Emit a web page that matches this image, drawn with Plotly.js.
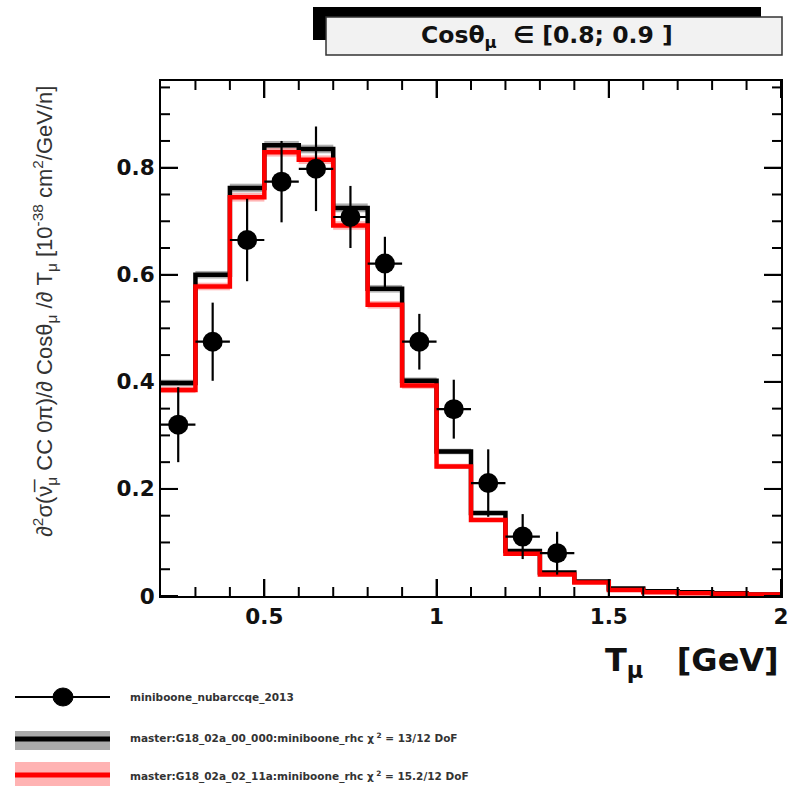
<!DOCTYPE html>
<html>
<head>
<meta charset="utf-8">
<script src="https://cdn.plot.ly/plotly-3.0.1.min.js"></script>
<style>html,body{margin:0;padding:0;background:#fff;}#chart{width:796px;height:786px;}</style>
</head>
<body>
<div id="chart"></div>
<script>
// ---- data ----
const binEdges = [0.2,0.3,0.4,0.5,0.6,0.7,0.8,0.9,1.0,1.1,1.2,1.3,1.4,1.5,1.6,1.7,1.8,1.9,2.0];
const g18_00 = [0.398,0.600,0.762,0.842,0.835,0.725,0.574,0.402,0.270,0.155,0.084,0.044,0.027,0.014,0.009,0.007,0.005,0.003];
const g18_00_err = [0.006,0.007,0.008,0.008,0.008,0.008,0.007,0.006,0.005,0.004,0.003,0.002,0.002,0.001,0.001,0.001,0.001,0.001];
const g18_11 = [0.385,0.578,0.745,0.829,0.815,0.692,0.544,0.393,0.242,0.142,0.079,0.040,0.025,0.011,0.007,0.005,0.004,0.003];
const g18_11_err = [0.006,0.007,0.008,0.008,0.008,0.008,0.007,0.006,0.005,0.004,0.003,0.002,0.002,0.001,0.001,0.001,0.001,0.001];
const dataX = [0.25,0.35,0.45,0.55,0.65,0.75,0.85,0.95,1.05,1.15,1.25,1.35];
const dataY = [0.320,0.475,0.665,0.774,0.798,0.708,0.621,0.475,0.349,0.211,0.111,0.080];
const dataErr = [0.070,0.073,0.077,0.076,0.079,0.058,0.050,0.052,0.055,0.063,0.042,0.040];
const dataXErr = [0.05,0.05,0.05,0.05,0.05,0.05,0.05,0.05,0.05,0.05,0.05,0.05];
const xTickVals = [0.5,1,1.5,2];
const xMinorVals = [0.3,0.4,0.6,0.7,0.8,0.9,1.1,1.2,1.3,1.4,1.6,1.7,1.8,1.9];
const yTickVals = [0,0.2,0.4,0.6,0.8];
const yMinorVals = [0.05,0.1,0.15,0.25,0.3,0.35,0.45,0.5,0.55,0.65,0.7,0.75,0.85,0.9,0.95];
const legendLabels = ['miniboone_nubarccqe_2013',
  'master:G18_02a_00_000:miniboone_rhc χ<sup> 2</sup> = 13/12 DoF',
  'master:G18_02a_02_11a:miniboone_rhc χ<sup> 2</sup> = 15.2/12 DoF'];
const panelTitle = 'Cosθ<sub>μ</sub>  ∈ [0.8; 0.9 ]';

// ---- helpers ----
function stepY(v){ return v.concat([v[v.length-1]]); }
function addArr(a,b,s){ return a.map((x,i)=>x+s*b[i]); }

const L=161, R=781, T=81, B=596;
const W=796, H=786;
const pw=R-L, ph=B-T;
const px=(x)=>(x-L)/pw;
const py=(y)=>(B-y)/ph;
const XR=[0.2,2.0], YR=[0,0.962];
const xp=(v)=>(v-XR[0])/(XR[1]-XR[0]);
const yp=(v)=>(v-YR[0])/(YR[1]-YR[0]);

const traces = [
  {x:binEdges, y:stepY(addArr(g18_00,g18_00_err,-1)), mode:'lines', line:{shape:'hv',width:0.1,color:'rgba(150,150,150,0.75)'}},
  {x:binEdges, y:stepY(addArr(g18_00,g18_00_err,1)), mode:'lines', line:{shape:'hv',width:0.1,color:'rgba(150,150,150,0.75)'}, fill:'tonexty', fillcolor:'rgba(150,150,150,0.75)'},
  {x:binEdges, y:stepY(addArr(g18_11,g18_11_err,-1)), mode:'lines', line:{shape:'hv',width:0.1,color:'rgba(255,150,150,0.7)'}},
  {x:binEdges, y:stepY(addArr(g18_11,g18_11_err,1)), mode:'lines', line:{shape:'hv',width:0.1,color:'rgba(255,150,150,0.7)'}, fill:'tonexty', fillcolor:'rgba(255,150,150,0.7)'},
  {x:binEdges, y:stepY(g18_00), mode:'lines', line:{shape:'hv',width:4.5,color:'#000'}},
  {x:binEdges, y:stepY(g18_11), mode:'lines', line:{shape:'hv',width:4.5,color:'#ff0000'}},
  {x:dataX, y:dataY, mode:'markers', marker:{size:20,color:'#000'},
    error_y:{type:'data',array:dataErr,visible:true,color:'#000',thickness:2.2,width:0},
    error_x:{type:'data',array:dataXErr,visible:true,color:'#000',thickness:2.2,width:0}}
];

const tickFont = {family:'DejaVu Sans, sans-serif', size:21.5, color:'#111', weight:'bold'};
const baseShapes = [
  {type:'rect', xref:'paper', yref:'paper', x0:px(313), x1:px(761), y0:py(40), y1:py(7), fillcolor:'#000', line:{width:0}},
  {type:'rect', xref:'paper', yref:'paper', x0:px(326), x1:px(782), y0:py(55), y1:py(17), fillcolor:'#f2f2f2', line:{color:'#333',width:1.5}},
  {type:'line', xref:'paper', yref:'paper', x0:px(15), x1:px(110), y0:py(697), y1:py(697), line:{color:'#000',width:2}},
  {type:'circle', xref:'paper', yref:'paper', x0:px(53), x1:px(73), y0:py(706), y1:py(688), fillcolor:'#000', line:{color:'#000',width:1}},
  {type:'rect', xref:'paper', yref:'paper', x0:px(15), x1:px(110), y0:py(750), y1:py(731), fillcolor:'#aaaaaa', line:{width:0}},
  {type:'line', xref:'paper', yref:'paper', x0:px(15), x1:px(110), y0:py(739), y1:py(739), line:{color:'#000',width:5}},
  {type:'rect', xref:'paper', yref:'paper', x0:px(15), x1:px(110), y0:py(790), y1:py(762), fillcolor:'#ffb3b3', line:{width:0}},
  {type:'line', xref:'paper', yref:'paper', x0:px(15), x1:px(110), y0:py(775), y1:py(775), line:{color:'#ff0000',width:5}}
];
// inside tick marks on all four sides, added after the first draw
const tickShapes = [];
function xTick(v,len){
  const f=xp(v), d=len/ph;
  tickShapes.push({type:'line', xref:'paper', yref:'paper', x0:f, x1:f, y0:0, y1:d, line:{color:'#000',width:2}});
  tickShapes.push({type:'line', xref:'paper', yref:'paper', x0:f, x1:f, y0:1, y1:1-d, line:{color:'#000',width:2}});
}
function yTick(v,len){
  const f=yp(v), d=len/pw;
  tickShapes.push({type:'line', xref:'paper', yref:'paper', y0:f, y1:f, x0:0, x1:d, line:{color:'#000',width:2}});
  tickShapes.push({type:'line', xref:'paper', yref:'paper', y0:f, y1:f, x0:1, x1:1-d, line:{color:'#000',width:2}});
}
xTickVals.forEach(v=>xTick(v,17));
xMinorVals.forEach(v=>xTick(v,9));
yTickVals.forEach(v=>yTick(v,17));
yMinorVals.forEach(v=>yTick(v,9));

const legFont = {family:'DejaVu Sans, sans-serif', size:10.5, color:'#333', weight:'bold'};
const annotations = [
  {xref:'paper', yref:'paper', x:px(547), y:py(36), text:panelTitle, showarrow:false, xanchor:'center', yanchor:'middle',
    font:{family:'DejaVu Sans, sans-serif', size:23.5, color:'#111', weight:'bold'}},
  {xref:'paper', yref:'paper', x:px(781), y:py(662), text:'T<sub>μ</sub>   [GeV]', showarrow:false, xanchor:'right', yanchor:'middle',
    font:{family:'DejaVu Sans, sans-serif', size:32, color:'#111', weight:'bold'}},
  {xref:'paper', yref:'paper', x:px(44), y:py(312), textangle:-90,
    text:'∂<sup>2</sup>σ(ν\u0305<sub>μ</sub> CC 0π)/∂ Cosθ<sub>μ</sub> /∂ T<sub>μ</sub> [10<sup>-38</sup> cm<sup>2</sup>/GeV/n]',
    showarrow:false, xanchor:'center', yanchor:'middle',
    font:{family:'Liberation Sans, Arial, sans-serif', size:22, color:'#333'}},
  {xref:'paper', yref:'paper', x:px(128), y:py(697), text:legendLabels[0], showarrow:false, xanchor:'left', yanchor:'middle', font:legFont},
  {xref:'paper', yref:'paper', x:px(128), y:py(738), text:legendLabels[1], showarrow:false, xanchor:'left', yanchor:'middle', font:legFont},
  {xref:'paper', yref:'paper', x:px(128), y:py(776), text:legendLabels[2], showarrow:false, xanchor:'left', yanchor:'middle', font:legFont}
];

const axisCommon = {showgrid:false, zeroline:false, showline:true, linecolor:'#000', linewidth:2, mirror:'allticks',
  ticks:'inside', ticklen:17, tickwidth:2, tickcolor:'#000', tickfont:tickFont};

const layout = {
  width:W, height:H,
  margin:{l:L, r:W-R, t:T, b:H-B},
  showlegend:false,
  xaxis:Object.assign({}, axisCommon, {range:XR, tickvals:xTickVals}),
  yaxis:Object.assign({}, axisCommon, {range:YR, tickvals:yTickVals}),
  shapes:baseShapes,
  annotations:annotations
};

Plotly.newPlot('chart', traces, layout, {displayModeBar:false}).then(gd=>{
  return Plotly.relayout(gd, {shapes: baseShapes.concat(tickShapes)});
}).then(gd=>{
  try{
    const p=document.querySelector('path.xtick');
    const info=['ticks '+document.querySelectorAll('path.xtick,path.ytick').length];
    if(p){const cs=getComputedStyle(p);const bb=p.getBoundingClientRect();
      info.push('d '+(p.getAttribute('d')||'').slice(0,30)+' st '+cs.stroke+' w '+cs.strokeWidth+' bb '+[bb.x,bb.y,bb.width,bb.height].map(Math.round).join(','));}
    info.push('shapepaths '+document.querySelectorAll('.shapelayer path').length);
    console.error(info.join(' | '));
  }catch(e){console.error(e);}
});
</script>
</body>
</html>
